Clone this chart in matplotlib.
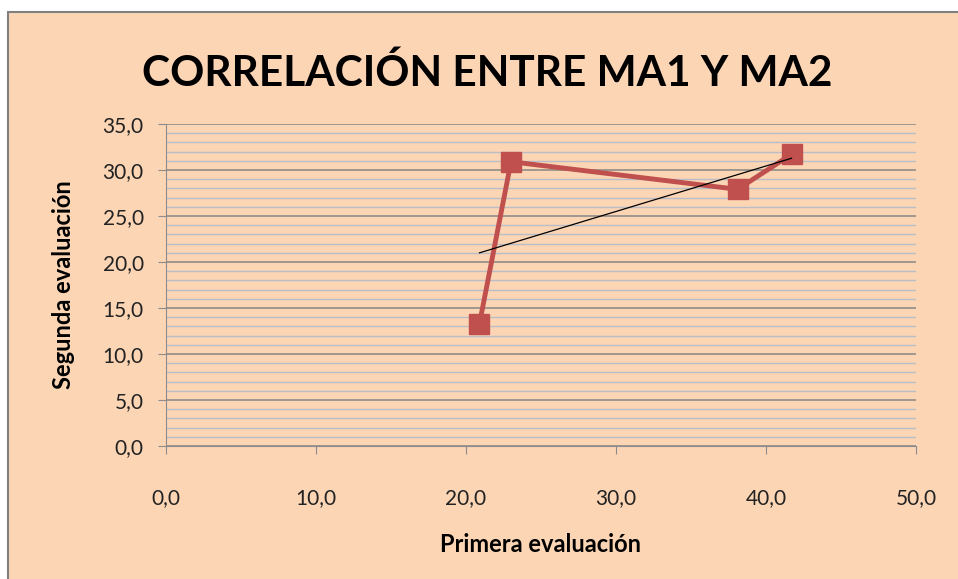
import numpy as np
import matplotlib
matplotlib.use('Agg')
import matplotlib.pyplot as plt
from matplotlib.patches import Rectangle
from matplotlib.ticker import MultipleLocator, FuncFormatter

plt.rcParams['font.family'] = ['Lato', 'DejaVu Sans']

# datos
primera = [20.9, 23.0, 38.1, 41.7]
segunda = [13.3, 30.9, 27.9, 31.7]
titulo = 'CORRELACIÓN ENTRE MA1 Y MA2'

fondo = '#FCD5B5'
rojo = '#C0504D'

fig = plt.figure(figsize=(9.58, 5.79), dpi=100)
fig.patch.set_facecolor('white')
# marco del grafico (recortado a la derecha y abajo)
marco = Rectangle((8 / 958, -0.05), 1.2, 1 - 12 / 579 + 0.05,
                  transform=fig.transFigure, facecolor=fondo,
                  edgecolor='#808080', linewidth=1.5, zorder=-10)
fig.patches.append(marco)

ax = fig.add_axes([166 / 958, 1 - 446 / 579, (916 - 166) / 958, (446 - 124) / 579])
ax.set_facecolor(fondo)

ax.plot(primera, segunda, color=rojo, linewidth=3.5, marker='s',
        markersize=14.5, zorder=4, clip_on=False)

# linea de tendencia lineal
m, b = np.polyfit(primera, segunda, 1)
xt = np.array([min(primera), max(primera)])
ax.plot(xt, m * xt + b, color='black', linewidth=0.9, zorder=5)

ax.set_xlim(0, 50)
ax.set_ylim(0, 35)
ax.xaxis.set_major_locator(MultipleLocator(10))
ax.yaxis.set_major_locator(MultipleLocator(5))
ax.yaxis.set_minor_locator(MultipleLocator(1))
fmt = FuncFormatter(lambda v, p: f'{v:.1f}'.replace('.', ','))
ax.xaxis.set_major_formatter(fmt)
ax.yaxis.set_major_formatter(fmt)

ax.grid(axis='y', which='major', color='#868686', linewidth=1.1)
ax.grid(axis='y', which='minor', color='#B9BEC6', linewidth=1.0)
ax.set_axisbelow(True)

for s in ['top', 'right']:
    ax.spines[s].set_visible(False)
ax.spines['left'].set_color('#8C8C8C')
ax.spines['bottom'].set_color('#8C8C8C')
ax.tick_params(axis='both', which='major', length=6, color='#8C8C8C',
               labelsize=15, labelcolor='#222222')
ax.tick_params(axis='x', pad=24)
ax.tick_params(axis='y', pad=10)
ax.tick_params(axis='y', which='minor', length=0)

ax.set_xlabel('Primera evaluación', fontsize=17, fontweight='bold', labelpad=18)
ax.set_ylabel('Segunda evaluación', fontsize=17, fontweight='bold', labelpad=20)

fig.text(487 / 958, 1 - 73 / 579, titulo, fontsize=30.5, fontweight='bold',
         ha='center', va='center')

fig.savefig('out.png', dpi=100, facecolor=fig.get_facecolor())
